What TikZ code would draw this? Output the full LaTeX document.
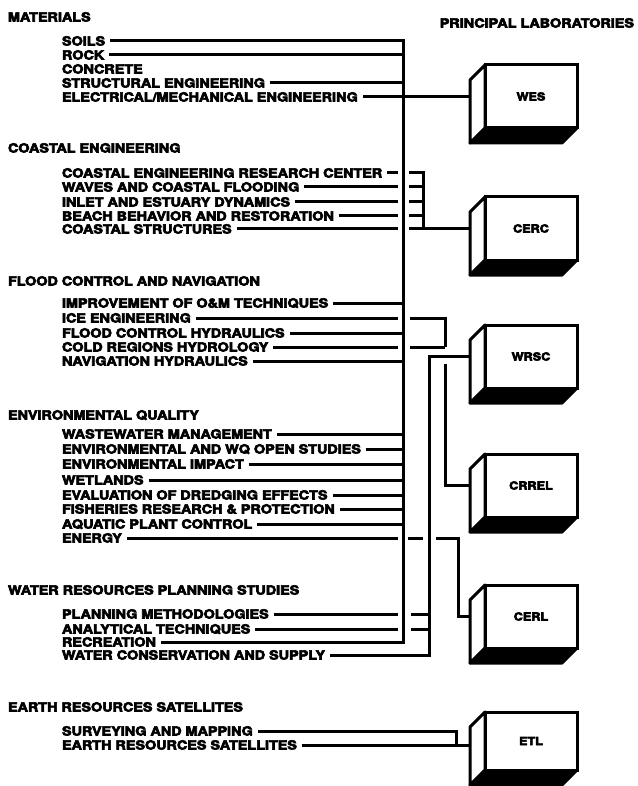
\documentclass[tikz,border=0pt]{standalone}
\usepackage{fontspec}
\newfontfamily\hv{TeX Gyre Heros}[FakeStretch=1.15, FakeBold=5]
\newcommand{\labbox}[5]{%
  \filldraw[boxline, fill=black] (#2,#3+#4) -- ++(92,0) -- ++(-15,15) -- ++(-92,0) -- cycle;
  \filldraw[boxline, fill=white] (#2,#3) -- (#2,#3+#4) -- ++(-15,15) -- (#2-15,#3+15) -- cycle;
  \node[front, minimum height=#4pt, anchor=north west] (#1) at (#2,#3) {#5};
  \coordinate (#1-l) at (#2-15,0);
}
\newcommand{\tobus}[1]{\draw[conn] ([xshift=5pt]#1.east) -- (#1.east -| A);}
\newcommand{\gapA}[1]{\draw[conn] ([xshift=5pt]#1.east) -- ([xshift=-5pt]#1.east -| A);}
\begin{document}
\begin{tikzpicture}[x=1pt,y=-1pt,
  txt/.style={font={\hv\bfseries\fontsize{12.5}{14}\selectfont}, anchor=west, inner sep=0pt, outer sep=0pt, text height=9pt, text depth=0pt},
  conn/.style={line width=3pt},
  boxline/.style={line width=3pt, line join=round},
  front/.style={draw, line width=3pt, fill=white, minimum width=92pt, inner sep=0pt, outer sep=0pt, font={\hv\bfseries\fontsize{11}{12}\selectfont}}]
\useasboundingbox (0,0) rectangle (637,786);

\coordinate (A) at (403,0);
\coordinate (B) at (423,0);
\coordinate (C) at (445,0);
\coordinate (D) at (429,0);
\coordinate (E) at (458,0);
\coordinate (F) at (456,0);

% headers
\node[txt] (hmat) at (8,17) {MATERIALS};
\node[txt] (hcoast) at (8,148) {COASTAL ENGINEERING};
\node[txt] (hflood) at (8,281) {FLOOD CONTROL AND NAVIGATION};
\node[txt] (henv) at (8,415) {ENVIRONMENTAL QUALITY};
\node[txt] (hwr) at (8,590) {WATER RESOURCES PLANNING STUDIES};
\node[txt] (hers) at (8,707) {EARTH RESOURCES SATELLITES};
\node[txt, anchor=east] (hlab) at (634,23) {PRINCIPAL LABORATORIES};

% items
\node[txt] (soils) at (62,41) {SOILS};
\node[txt] (rock) at (62,55) {ROCK};
\node[txt] (concrete) at (62,69) {CONCRETE};
\node[txt] (struct) at (62,83) {STRUCTURAL ENGINEERING};
\node[txt] (elec) at (62,97) {ELECTRICAL/MECHANICAL ENGINEERING};

\node[txt] (cerc1) at (62,173) {COASTAL ENGINEERING RESEARCH CENTER};
\node[txt] (waves) at (62,187) {WAVES AND COASTAL FLOODING};
\node[txt] (inlet) at (62,202) {INLET AND ESTUARY DYNAMICS};
\node[txt] (beach) at (62,216) {BEACH BEHAVIOR AND RESTORATION};
\node[txt] (cstruct) at (62,229) {COASTAL STRUCTURES};

\node[txt] (omt) at (62,303) {IMPROVEMENT OF O\&M TECHNIQUES};
\node[txt] (ice) at (62,318) {ICE ENGINEERING};
\node[txt] (fch) at (62,333) {FLOOD CONTROL HYDRAULICS};
\node[txt] (cold) at (62,347) {COLD REGIONS HYDROLOGY};
\node[txt] (nav) at (62,361) {NAVIGATION HYDRAULICS};

\node[txt] (waste) at (62,434) {WASTEWATER MANAGEMENT};
\node[txt] (ewq) at (62,449) {ENVIRONMENTAL AND WQ OPEN STUDIES};
\node[txt] (eimp) at (62,464) {ENVIRONMENTAL IMPACT};
\node[txt] (wet) at (62,480) {WETLANDS};
\node[txt] (dredge) at (62,495) {EVALUATION OF DREDGING EFFECTS};
\node[txt] (fish) at (62,509) {FISHERIES RESEARCH \& PROTECTION};
\node[txt] (aqua) at (62,524) {AQUATIC PLANT CONTROL};
\node[txt] (energy) at (62,538) {ENERGY};

\node[txt] (plan) at (62,614) {PLANNING METHODOLOGIES};
\node[txt] (anal) at (62,629) {ANALYTICAL TECHNIQUES};
\node[txt] (rec) at (62,642) {RECREATION};
\node[txt] (wcons) at (62,655) {WATER CONSERVATION AND SUPPLY};

\node[txt] (survey) at (62,731) {SURVEYING AND MAPPING};
\node[txt] (ersat) at (62,745) {EARTH RESOURCES SATELLITES};

% laboratory boxes
\labbox{wes}{485}{65}{63}{WES}
\labbox{cerc}{485}{197}{63}{CERC}
\labbox{wrsc}{485}{325}{63}{WRSC}
\labbox{crrel}{485}{454}{63}{CRREL}
\labbox{cerl}{485}{585}{63}{CERL}
\labbox{etl}{485}{712}{58}{ETL}

% main bus (WES group)
\draw[conn] ([xshift=5pt]soils.east) -| (rec.east -| A) -- ([xshift=5pt]rec.east);
\tobus{rock}\tobus{struct}\tobus{omt}\tobus{fch}\tobus{nav}
\tobus{waste}\tobus{ewq}\tobus{eimp}\tobus{wet}\tobus{dredge}\tobus{fish}\tobus{aqua}
\draw[conn] ([xshift=5pt]elec.east) -- (elec.east -| wes-l);

% CERC
\gapA{cerc1}\gapA{waves}\gapA{inlet}\gapA{beach}\gapA{cstruct}
\draw[conn] ([xshift=6pt]cerc1.east -| A) -| (cstruct.east -| B) -- (cstruct.east -| cerc-l);
\foreach \n in {waves,inlet,beach,cstruct}{\draw[conn] ([xshift=6pt]\n.east -| A) -- (\n.east -| B);}

% CRREL
\gapA{ice}\gapA{cold}
\draw[conn] ([xshift=7pt]ice.east -| A) -| (cold.east -| C);
\draw[conn] ([xshift=7pt]cold.east -| A) -- (cold.east -| C);
\draw[conn] ([yshift=-7pt]wrsc.west -| C) |- (crrel.west -| crrel-l);

% WRSC
\draw[conn] (wrsc.west -| wrsc-l) -| (wcons.east -| D) -- ([xshift=5pt]wcons.east);
\gapA{plan}\gapA{anal}
\draw[conn] ([xshift=8pt]plan.east -| A) -- (plan.east -| D);
\draw[conn] ([xshift=8pt]anal.east -| A) -- (anal.east -| D);

% CERL
\gapA{energy}
\draw[conn] ([xshift=5pt]energy.east -| A) -- ([xshift=-6pt]energy.east -| D);
\draw[conn] ([xshift=7pt]energy.east -| D) -| (cerl.west -| E) -- (cerl.west -| cerl-l);

% ETL
\draw[conn] ([xshift=5pt]survey.east) -| (ersat.east -| F) -- (ersat.east -| etl-l);
\draw[conn] ([xshift=5pt]ersat.east) -- (ersat.east -| F);
\end{tikzpicture}
\end{document}
